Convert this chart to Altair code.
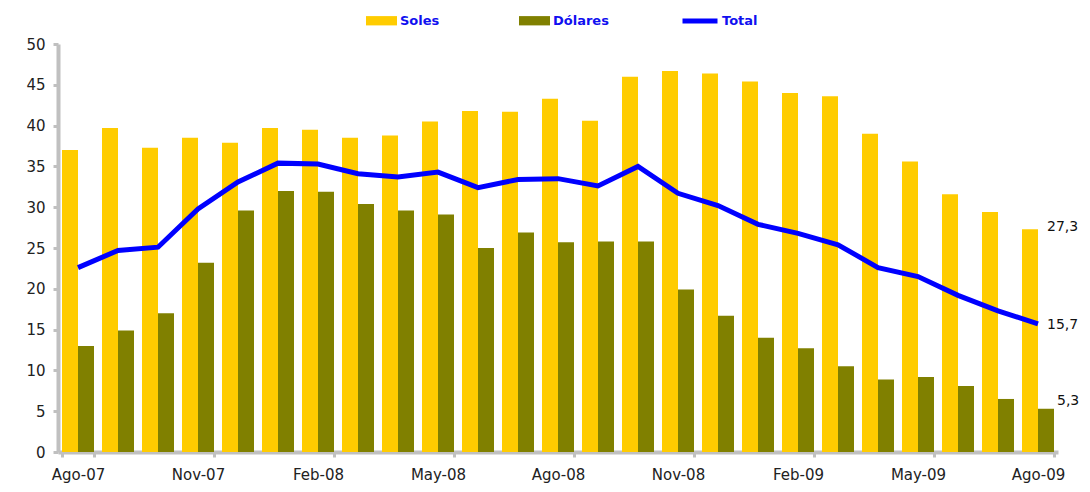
import altair as alt
import pandas as pd

months = ["Ago-07", "Set-07", "Oct-07", "Nov-07", "Dic-07", "Ene-08", "Feb-08", "Mar-08", "Abr-08",
          "May-08", "Jun-08", "Jul-08", "Ago-08", "Set-08", "Oct-08", "Nov-08", "Dic-08", "Ene-09",
          "Feb-09", "Mar-09", "Abr-09", "May-09", "Jun-09", "Jul-09", "Ago-09"]
soles = [37.0, 39.7, 37.3, 38.5, 37.9, 39.7, 39.5, 38.5, 38.8, 40.5, 41.8, 41.7, 43.3, 40.6, 46.0,
         46.7, 46.4, 45.4, 44.0, 43.6, 39.0, 35.6, 31.6, 29.4, 27.3]
dolares = [13.0, 14.9, 17.0, 23.2, 29.6, 32.0, 31.9, 30.4, 29.6, 29.1, 25.0, 26.9, 25.7, 25.8, 25.8,
           19.9, 16.7, 14.0, 12.7, 10.5, 8.9, 9.2, 8.1, 6.5, 5.3]
total = [22.6, 24.7, 25.1, 29.8, 33.1, 35.4, 35.3, 34.1, 33.7, 34.3, 32.4, 33.4, 33.5, 32.6, 35.0,
         31.7, 30.2, 27.9, 26.8, 25.4, 22.6, 21.5, 19.2, 17.3, 15.7]
series = ["Soles", "Dólares"]
tick_months = months[::3]
y_ticks = list(range(0, 51, 5))

bars_df = pd.DataFrame(
    [{"mes": m, "serie": "Soles", "valor": v} for m, v in zip(months, soles)]
    + [{"mes": m, "serie": "Dólares", "valor": v} for m, v in zip(months, dolares)]
)
line_df = pd.DataFrame({"mes": months, "valor": total, "serie": ["Total"] * len(months)})


def fmt(v):
    return f"{v:.1f}".replace(".", ",")


end_df = pd.DataFrame({
    "mes": [months[-1]] * 3,
    "valor": [soles[-1], total[-1], dolares[-1]],
    "serie": ["Soles", "Total", "Dólares"],
    "label": [fmt(soles[-1]), fmt(total[-1]), fmt(dolares[-1])],
})

FONT = "DejaVu Sans"
GRAY = "#C0C0C0"

x_enc = alt.X(
    "mes:N", sort=months, title=None,
    scale=alt.Scale(paddingInner=0.2, paddingOuter=0.1),
    axis=alt.Axis(values=tick_months, labelAngle=0, tickBand="extent", domainColor=GRAY,
                  domainWidth=4, tickColor=GRAY, tickWidth=3, tickSize=5, labelPadding=10,
                  labelFont=FONT, labelFontSize=15, labelColor="#222222"),
)
y_enc = alt.Y(
    "valor:Q", title=None,
    scale=alt.Scale(domain=[0, 50], nice=False, zero=True),
    axis=alt.Axis(values=y_ticks, grid=False, domainColor=GRAY, domainWidth=4, tickColor=GRAY,
                  tickWidth=3, tickSize=5, labelPadding=8, labelFont=FONT, labelFontSize=15,
                  labelColor="#222222"),
)

bars = alt.Chart(bars_df).mark_bar().encode(
    x=x_enc,
    xOffset=alt.XOffset("serie:N", sort=series, scale=alt.Scale(paddingInner=0, paddingOuter=0)),
    y=y_enc,
    color=alt.Color(
        "serie:N",
        scale=alt.Scale(domain=series, range=["#FFCC00", "#808000"]),
        legend=alt.Legend(
            title=None, orient="none", direction="horizontal", legendX=308, legendY=-39,
            symbolType="M-1,-0.3H1V0.3H-1Z", symbolSize=961, symbolStrokeWidth=0,
            labelColor="#1010F0", labelFont=FONT, labelFontWeight="bold", labelFontSize=13,
            labelOffset=3, columnPadding=79, padding=0,
        ),
    ),
)

line = alt.Chart(line_df).mark_line(strokeWidth=5, strokeJoin="miter").encode(
    x=alt.X("mes:N", sort=months),
    y=alt.Y("valor:Q"),
    stroke=alt.Stroke(
        "serie:N",
        scale=alt.Scale(domain=["Total"], range=["#0000FF"]),
        legend=alt.Legend(
            title=None, orient="none", direction="horizontal", legendX=622, legendY=-43,
            symbolType="stroke", symbolSize=1225, symbolStrokeWidth=5,
            labelColor="#1010F0", labelFont=FONT, labelFontWeight="bold", labelFontSize=13,
            labelOffset=2, padding=0,
        ),
    ),
)

base_text = alt.Chart(end_df).encode(
    x=alt.X("mes:N", sort=months), y=alt.Y("valor:Q"), text="label:N"
)
t_soles = base_text.transform_filter(alt.datum.serie == "Soles").mark_text(
    align="left", baseline="middle", dx=9, dy=-2, font=FONT, fontSize=14, color="#111111")
t_total = base_text.transform_filter(alt.datum.serie == "Total").mark_text(
    align="left", baseline="middle", dx=9, dy=1, font=FONT, fontSize=14, color="#111111")
t_dol = base_text.transform_filter(alt.datum.serie == "Dólares").mark_text(
    align="left", baseline="middle", dx=19, dy=-8, font=FONT, fontSize=14, color="#111111")

chart = alt.layer(bars, line, t_soles, t_total, t_dol).resolve_scale(
    color="independent"
).properties(
    width=1000, height=408,
    autosize=alt.AutoSizeParams(type="none"),
    padding={"left": 50, "top": 36, "right": 24, "bottom": 32},
).configure_view(stroke=None)

chart.save("out.html", embed_options={"renderer": "svg", "actions": False})
